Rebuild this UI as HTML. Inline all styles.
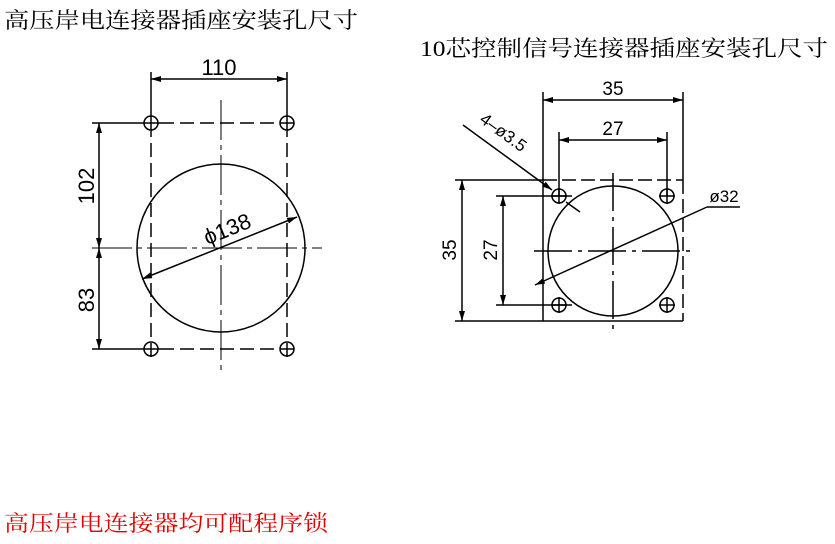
<!DOCTYPE html>
<html><head><meta charset="utf-8"><style>
html,body{margin:0;padding:0;background:#fff;}
svg{display:block;font-family:"Liberation Sans","Noto Sans CJK SC",sans-serif;}
</style></head><body>
<svg width="835" height="544" viewBox="0 0 835 544" xmlns="http://www.w3.org/2000/svg">
<defs>
<marker id="a" viewBox="0 0 10 6" refX="10" refY="3" markerWidth="10" markerHeight="6" orient="auto-start-reverse" markerUnits="userSpaceOnUse"><path d="M0,0L10,3L0,6z" fill="#000"/></marker>
</defs>
<g font-family="'Liberation Serif','Noto Serif CJK SC',serif" font-size="22">
<text x="4" y="28" textLength="354" lengthAdjust="spacingAndGlyphs">高压岸电连接器插座安装孔尺寸</text>
<text x="420" y="56" textLength="408" lengthAdjust="spacingAndGlyphs">10芯控制信号连接器插座安装孔尺寸</text>
<text x="4" y="531" fill="#e00000" textLength="324" lengthAdjust="spacingAndGlyphs">高压岸电连接器均可配程序锁</text>
</g>
<g stroke="#000" stroke-width="1.5" fill="none">
<!-- left drawing -->
<line x1="151" y1="72" x2="151" y2="123"/>
<line x1="287" y1="72" x2="287" y2="123"/>
<line x1="151" y1="123" x2="151" y2="362" stroke-dasharray="14,6"/>
<line x1="287" y1="123" x2="287" y2="362" stroke-dasharray="14,6"/>
<line x1="151" y1="79" x2="287" y2="79" marker-start="url(#a)" marker-end="url(#a)"/>
<line x1="92" y1="123" x2="160" y2="123"/>
<line x1="160" y1="123" x2="296" y2="123" stroke-dasharray="14,6"/>
<line x1="92" y1="349" x2="160" y2="349"/>
<line x1="160" y1="349" x2="296" y2="349" stroke-dasharray="14,6"/>
<line x1="92" y1="248" x2="322" y2="248" stroke-dasharray="40,5,5,5" stroke-width="1"/>
<line x1="221" y1="100" x2="221" y2="374" stroke-dasharray="40,5,5,5" stroke-width="1"/>
<line x1="99" y1="123" x2="99" y2="248" marker-start="url(#a)" marker-end="url(#a)"/>
<line x1="99" y1="248" x2="99" y2="349" marker-start="url(#a)" marker-end="url(#a)"/>
<circle cx="221" cy="248" r="84"/>
<circle cx="151" cy="123" r="7"/><circle cx="287" cy="123" r="7"/>
<circle cx="151" cy="349" r="7"/><circle cx="287" cy="349" r="7"/>
<line x1="142" y1="279" x2="297" y2="217" marker-start="url(#a)" marker-end="url(#a)"/>
<!-- right drawing -->
<line x1="543" y1="92" x2="543" y2="321"/>
<line x1="683" y1="92" x2="683" y2="180"/>
<line x1="683" y1="180" x2="683" y2="321" stroke-dasharray="14,5"/>
<line x1="455" y1="180" x2="543" y2="180"/>
<line x1="543" y1="180" x2="683" y2="180" stroke-dasharray="14,5"/>
<line x1="455" y1="321" x2="683" y2="321"/>
<line x1="543" y1="100" x2="683" y2="100" marker-start="url(#a)" marker-end="url(#a)"/>
<line x1="559" y1="132" x2="559" y2="196"/>
<line x1="667" y1="132" x2="667" y2="196"/>
<line x1="559" y1="140" x2="667" y2="140" marker-start="url(#a)" marker-end="url(#a)"/>
<line x1="462" y1="180" x2="462" y2="321" marker-start="url(#a)" marker-end="url(#a)"/>
<line x1="496" y1="196" x2="572" y2="196"/>
<line x1="496" y1="305" x2="572" y2="305"/>
<line x1="503" y1="196" x2="503" y2="305" marker-start="url(#a)" marker-end="url(#a)"/>
<circle cx="613" cy="251" r="65"/>
<line x1="534" y1="251" x2="692" y2="251" stroke-dasharray="38,6,4,6"/>
<line x1="613" y1="173" x2="613" y2="330" stroke-dasharray="38,6,4,6"/>
<circle cx="559" cy="196" r="7"/><circle cx="667" cy="196" r="7"/>
<circle cx="559" cy="305" r="7"/><circle cx="667" cy="305" r="7"/>
<line x1="551" y1="196" x2="567" y2="196"/><line x1="559" y1="188" x2="559" y2="204"/>
<line x1="659" y1="196" x2="675" y2="196"/><line x1="667" y1="188" x2="667" y2="204"/>
<line x1="551" y1="305" x2="567" y2="305"/><line x1="559" y1="297" x2="559" y2="313"/>
<line x1="659" y1="305" x2="675" y2="305"/><line x1="667" y1="297" x2="667" y2="313"/>
<line x1="463" y1="125" x2="552" y2="190" marker-end="url(#a)"/>
<line x1="566" y1="202" x2="580" y2="212"/>
<line x1="535" y1="285" x2="707" y2="207" marker-start="url(#a)"/>
<line x1="707" y1="207" x2="740" y2="207"/>
</g>
<g font-family="'Liberation Sans',sans-serif" fill="#000">
<text x="219" y="75" font-size="22" text-anchor="middle">110</text>
<text transform="translate(94,186) rotate(-90)" font-size="22" text-anchor="middle">102</text>
<text transform="translate(94,300) rotate(-90)" font-size="22" text-anchor="middle">83</text>
<text transform="translate(230,236) rotate(-22)" font-size="22" text-anchor="middle">ϕ138</text>
<text x="613" y="95" font-size="19" text-anchor="middle">35</text>
<text x="613" y="135" font-size="19" text-anchor="middle">27</text>
<text transform="translate(456,250) rotate(-90)" font-size="19" text-anchor="middle">35</text>
<text transform="translate(497,250) rotate(-90)" font-size="19" text-anchor="middle">27</text>
<text transform="translate(500,137) rotate(36)" font-size="17" text-anchor="middle">4–ø3.5</text>
<text x="724" y="202" font-size="17" text-anchor="middle">ø32</text>
</g>
</svg>
</body></html>
